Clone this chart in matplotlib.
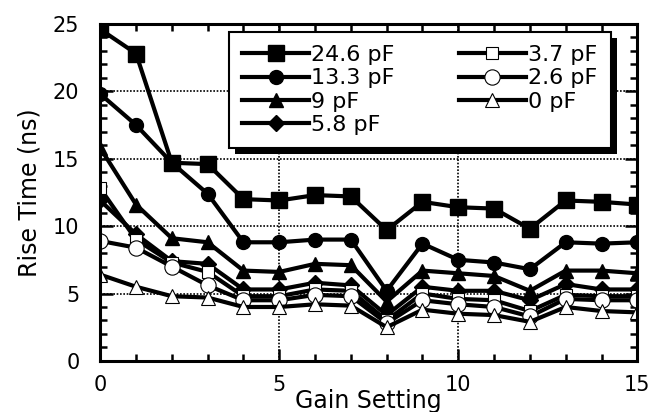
import matplotlib.pyplot as plt
import numpy as np
from matplotlib.ticker import MultipleLocator
from matplotlib.patches import Rectangle
from matplotlib.transforms import IdentityTransform

plt.rcParams['font.family'] = ['DejaVu Sans']

gain = np.arange(16)

# rise time (ns) per load capacitance
c24_6 = [24.6, 22.8, 14.7, 14.6, 12.0, 11.9, 12.3, 12.2, 9.7, 11.8, 11.4, 11.3, 9.8, 11.9, 11.8, 11.6]
c13_3 = [19.8, 17.5, 14.7, 12.4, 8.8, 8.8, 9.0, 9.0, 5.2, 8.7, 7.5, 7.3, 6.8, 8.8, 8.7, 8.8]
c9 = [15.8, 11.6, 9.1, 8.8, 6.7, 6.6, 7.2, 7.1, 4.4, 6.7, 6.5, 6.3, 5.2, 6.7, 6.7, 6.5]
c5_8 = [11.9, 9.4, 7.4, 7.2, 5.3, 5.3, 5.8, 5.6, 3.4, 5.5, 5.2, 5.2, 4.5, 5.7, 5.3, 5.3]
c3_7 = [12.8, 9.0, 7.3, 6.6, 4.8, 4.8, 5.3, 5.2, 3.0, 5.0, 4.6, 4.5, 3.7, 4.9, 4.8, 4.8]
c2_6 = [8.9, 8.4, 7.0, 5.6, 4.5, 4.5, 4.9, 4.8, 2.8, 4.5, 4.2, 4.0, 3.3, 4.6, 4.5, 4.5]
c0 = [6.4, 5.5, 4.8, 4.7, 4.0, 4.0, 4.2, 4.1, 2.5, 3.8, 3.5, 3.4, 2.9, 4.0, 3.7, 3.6]

fig = plt.figure(figsize=(6.55, 4.12), dpi=100)
ax = fig.add_axes([0.153, 0.124, 0.820, 0.818])

lw = 3
ax.plot(gain, c24_6, 'k-s', lw=lw, ms=11, label="24.6 pF")
ax.plot(gain, c13_3, 'k-o', lw=lw, ms=10, label="13.3 pF")
ax.plot(gain, c9, 'k-^', lw=lw, ms=10, label="9 pF")
ax.plot(gain, c5_8, 'k-D', lw=lw, ms=8, label="5.8 pF")
ax.plot(gain, c3_7, 'k-s', lw=lw, ms=8, mfc='white', mew=0.8, label="3.7 pF")
ax.plot(gain, c2_6, 'k-o', lw=lw, ms=11, mfc='white', mew=0.8, label="2.6 pF")
ax.plot(gain, c0, 'k-^', lw=lw, ms=10, mfc='white', mew=0.8, label="0 pF")

ax.set_xlim(0, 15)
ax.set_ylim(0, 25)
ax.xaxis.set_major_locator(MultipleLocator(5))
ax.xaxis.set_minor_locator(MultipleLocator(1))
ax.yaxis.set_major_locator(MultipleLocator(5))
ax.yaxis.set_minor_locator(MultipleLocator(1))
ax.tick_params(which='both', direction='in', top=True, right=True, width=1.8, labelsize=15)
ax.tick_params(which='major', length=9)
ax.tick_params(which='minor', length=5)
ax.tick_params(axis='x', which='major', pad=10)
ax.tick_params(axis='y', which='major', pad=15)
ax.grid(True, which='major', color='k', ls=(0, (1, 1)), lw=1.2)
for s in ax.spines.values():
    s.set_linewidth(2.2)

ax.set_xlabel("Gain Setting", fontsize=17, labelpad=-4)
ax.set_ylabel("Rise Time (ns)", fontsize=17, labelpad=8)

leg = ax.legend(ncol=2, loc='upper left', bbox_to_anchor=(0.240, 0.977), fontsize=16,
                handlelength=3.0, columnspacing=2.9, labelspacing=0.15, handletextpad=0.1,
                borderpad=0.6, borderaxespad=0, fancybox=False, framealpha=1, edgecolor='k')
leg.get_frame().set_linewidth(1.5)

# solid black drop shadow behind the legend box
fig.canvas.draw()
bb = leg.get_frame().get_window_extent()
shadow = Rectangle((bb.x0 + 6, bb.y0 - 6), bb.width, bb.height, facecolor='k',
                   edgecolor='none', transform=IdentityTransform(), zorder=4.9, clip_on=False)
ax.add_artist(shadow)

plt.savefig("out.png", dpi=100)
